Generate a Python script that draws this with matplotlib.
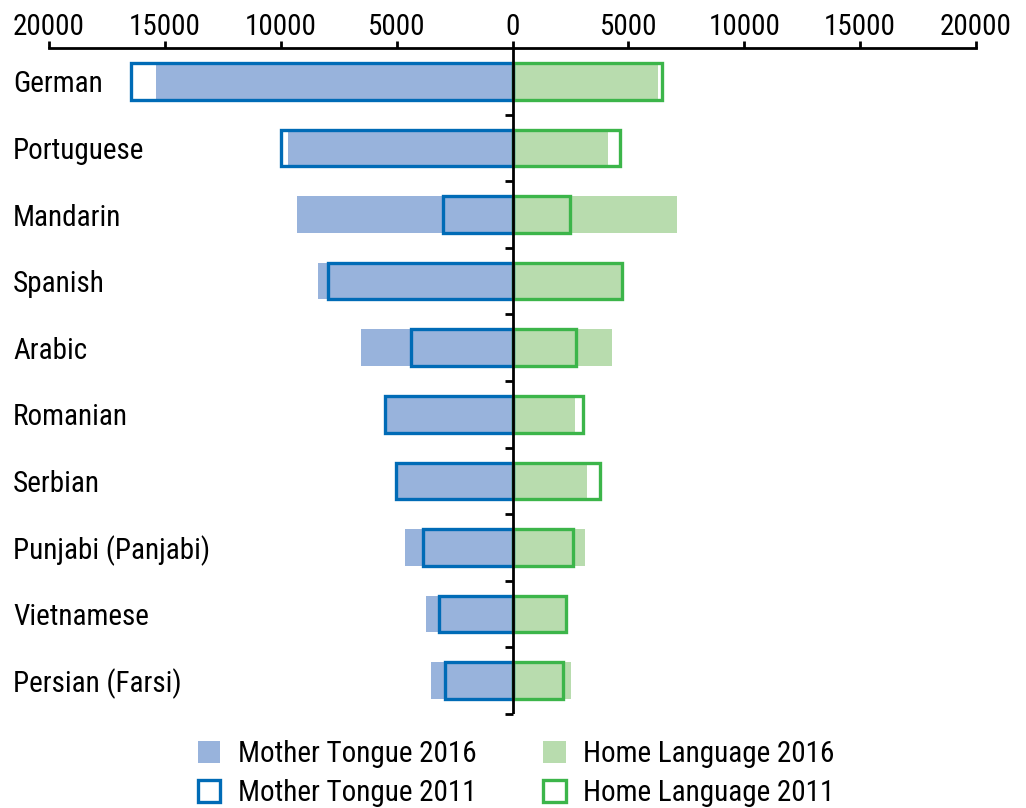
import matplotlib
matplotlib.use("Agg")
import matplotlib.pyplot as plt
from matplotlib import font_manager
from matplotlib.patches import Patch
from matplotlib.ticker import FuncFormatter
from matplotlib.transforms import blended_transform_factory
import numpy as np

categories = ["German", "Portuguese", "Mandarin", "Spanish", "Arabic",
              "Romanian", "Serbian", "Punjabi (Panjabi)", "Vietnamese", "Persian (Farsi)"]
mother_2016 = [15390, 9690, 9300, 8400, 6540, 5450, 4980, 4640, 3730, 3520]
mother_2011 = [16450, 9970, 3000, 7940, 4380, 5500, 5030, 3880, 3170, 2930]
home_2016 = [6280, 4120, 7100, 4680, 4290, 2700, 3220, 3130, 2260, 2510]
home_2011 = [6470, 4620, 2460, 4730, 2720, 3040, 3780, 2610, 2300, 2200]
xticks = [-20000, -15000, -10000, -5000, 0, 5000, 10000, 15000, 20000]
legend_labels = ["Mother Tongue 2016", "Mother Tongue 2011", "Home Language 2016", "Home Language 2011"]

names = {f.name for f in font_manager.fontManager.ttflist}
font_kw = {}
for cand in ["Liberation Sans Narrow", "Roboto Condensed", "Open Sans Condensed"]:
    if cand in names:
        font_kw = {"family": cand}
        break
if not font_kw:
    font_kw = {"family": "DejaVu Sans", "stretch": "condensed"}
plt.rcParams["font.family"] = font_kw["family"]
if "stretch" in font_kw:
    plt.rcParams["font.stretch"] = font_kw["stretch"]

FS = 21
MT16_C = "#98b3dc"
MT11_C = "#006bb6"
HL16_C = "#b8dcae"
HL11_C = "#3cb54a"

fig = plt.figure(figsize=(10.26, 8.08), dpi=100)
ax = fig.add_axes([49 / 1026, 1 - 714 / 808, 927 / 1026, 666 / 808])

y = np.arange(len(categories))
h = 0.55
ax.barh(y, -np.array(mother_2016), height=h, color=MT16_C, zorder=2)
ax.barh(y, home_2016, height=h, color=HL16_C, zorder=2)
ax.barh(y, -np.array(mother_2011), height=h, fill=False, edgecolor=MT11_C, linewidth=2.4, zorder=3)
ax.barh(y, home_2011, height=h, fill=False, edgecolor=HL11_C, linewidth=2.4, zorder=3)

ax.set_xlim(-20000, 20000)
ax.set_ylim(len(categories) - 0.5, -0.5)

# center line with small left ticks at category boundaries
ax.axvline(0, color="black", linewidth=2, zorder=4)
bounds = np.arange(len(categories)) + 0.5
ax.plot(np.zeros_like(bounds), bounds, linestyle="none", marker=0, markersize=6,
        markeredgewidth=2, color="black", zorder=4, clip_on=False)

for s in ["left", "right", "bottom"]:
    ax.spines[s].set_visible(False)
ax.spines["top"].set_linewidth(2)
ax.xaxis.tick_top()
ax.set_xticks(xticks)
ax.xaxis.set_major_formatter(FuncFormatter(lambda v, p: f"{abs(int(v))}"))
ax.tick_params(axis="x", direction="out", length=5, width=2, pad=0, labelsize=FS)
ax.set_yticks([])

trans = blended_transform_factory(fig.transFigure, ax.transData)
for yi, c in zip(y, categories):
    ax.text(13 / 1026, yi, c, transform=trans, ha="left", va="center_baseline", fontsize=FS)

handles = [
    Patch(facecolor=MT16_C, edgecolor="none"),
    Patch(facecolor="white", edgecolor=MT11_C, linewidth=2.4),
    Patch(facecolor=HL16_C, edgecolor="none"),
    Patch(facecolor="white", edgecolor=HL11_C, linewidth=2.4),
]
fig.legend(handles, legend_labels, ncol=2, loc="upper left",
           bbox_to_anchor=(198 / 1026, 1 - 740 / 808), frameon=False, fontsize=FS,
           handlelength=0.76, handleheight=0.76, handletextpad=0.6, columnspacing=2.3,
           labelspacing=0.38, borderpad=0, borderaxespad=0)

fig.savefig("out.png", dpi=100)
